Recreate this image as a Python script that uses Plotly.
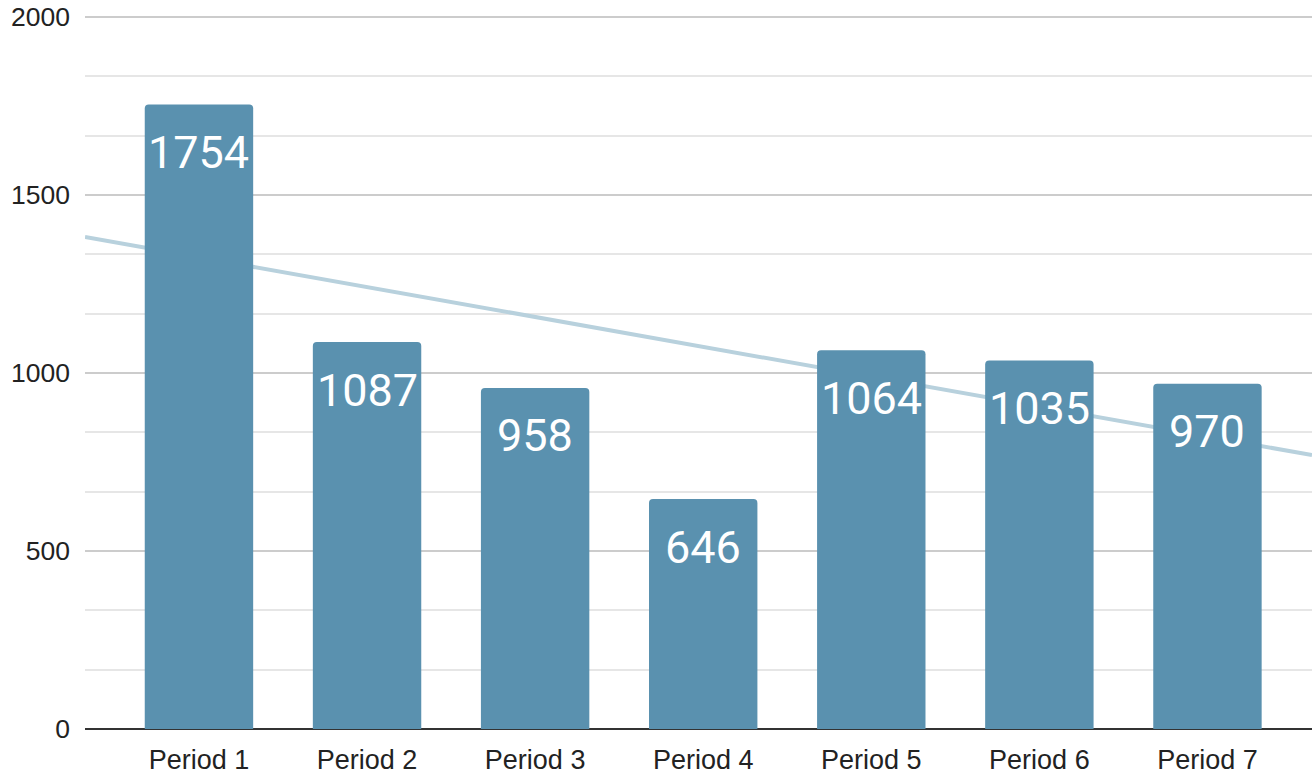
import numpy as np
import plotly.graph_objects as go

categories = ["Period 1", "Period 2", "Period 3", "Period 4", "Period 5", "Period 6", "Period 7"]
values = [1754, 1087, 958, 646, 1064, 1035, 970]
y_ticks = [0, 500, 1000, 1500, 2000]

BAR = "#5a91af"
TREND = "#b8d1dd"

xi = np.arange(len(categories))
slope, intercept = np.polyfit(xi, values, 1)
x_range = [-0.678, 6.622]
trend_y = [slope * x + intercept for x in x_range]

fig = go.Figure()
fig.add_trace(go.Bar(x=xi, y=values, width=0.645, marker=dict(color=BAR, line=dict(width=0)),
                     showlegend=False))
fig.add_shape(type="line", xref="x", yref="y", x0=x_range[0], y0=trend_y[0],
              x1=x_range[1], y1=trend_y[1], line=dict(color=TREND, width=4), layer="between")

for x, v in zip(xi, values):
    fig.add_annotation(x=x, y=v, text=str(v), showarrow=False, yanchor="middle",
                       yshift=-48, font=dict(family="Roboto", size=45, color="white"))

fig.update_layout(
    width=1312, height=775,
    margin=dict(l=85, r=0, t=15, b=44),
    paper_bgcolor="white", plot_bgcolor="white",
    barcornerradius=4,
    xaxis=dict(range=x_range, tickvals=list(xi), ticktext=categories, showgrid=False,
               zeroline=False, showline=False, ticks="", ticklabelstandoff=12,
               tickfont=dict(family="Liberation Sans, Arial", size=27, color="#222222")),
    yaxis=dict(range=[0, 2005.6], tickvals=y_ticks, showgrid=True, gridcolor="#cccccc", gridwidth=1.5,
               zeroline=True, zerolinecolor="#333333", zerolinewidth=2,
               minor=dict(dtick=500 / 3, showgrid=True, gridcolor="#e6e6e6", gridwidth=1.5),
               ticklabelstandoff=14,
               tickfont=dict(family="Liberation Sans, Arial", size=26.5, color="#222222")),
)
fig.write_html("out.html", config={"displayModeBar": False},
               post_script="document.body.style.margin='0px';document.body.style.overflow='hidden';")
